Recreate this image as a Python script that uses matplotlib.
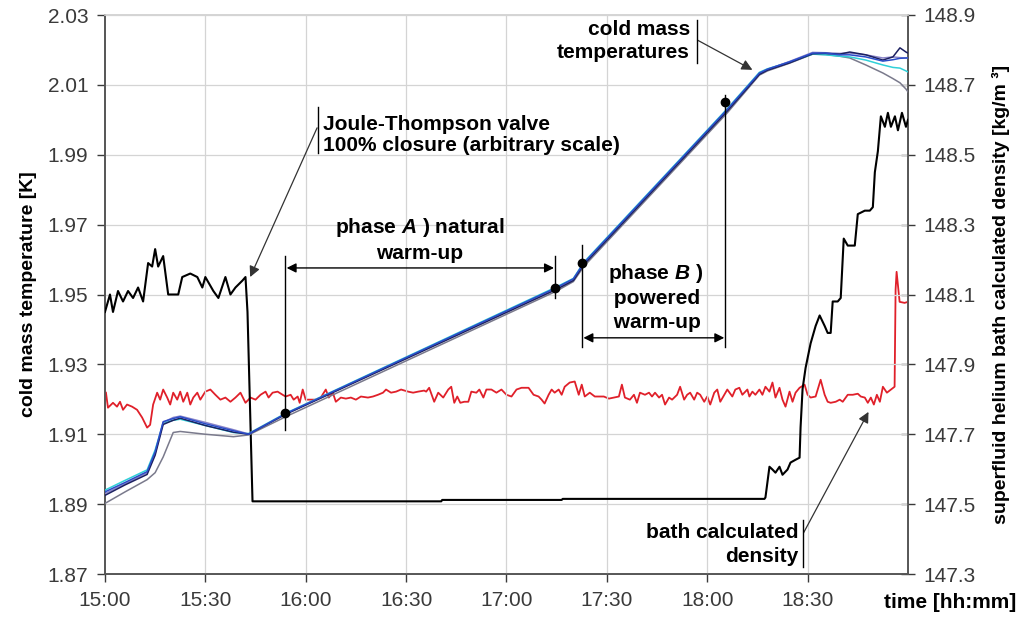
import matplotlib
matplotlib.use("Agg")
import matplotlib.pyplot as plt
import numpy as np

plt.rcParams['font.family'] = ['Liberation Sans', 'DejaVu Sans']
plt.rcParams['mathtext.fontset'] = 'custom'
plt.rcParams['mathtext.bfit'] = 'Liberation Sans:italic:bold'
plt.rcParams['mathtext.bf'] = 'Liberation Sans:bold'
plt.rcParams['mathtext.it'] = 'Liberation Sans:italic'
plt.rcParams['mathtext.rm'] = 'Liberation Sans'

# time axis: minutes after 15:00
time_ticks = [0, 30, 60, 90, 120, 150, 180, 210]
time_labels = ["15:00", "15:30", "16:00", "16:30", "17:00", "17:30", "18:00", "18:30"]
temp_ticks = [1.87, 1.89, 1.91, 1.93, 1.95, 1.97, 1.99, 2.01, 2.03]
dens_ticks = [147.3, 147.5, 147.7, 147.9, 148.1, 148.3, 148.5, 148.7, 148.9]

# cold mass temperature sensors [K]
t_cm = [0, 6, 12.6, 15, 17.4, 20.4, 22.5, 30, 38.4, 42.9, 54, 135, 140, 143.1, 186,
        195.6, 198, 204.6, 211.5, 215.4, 219.6, 222.6, 227.4, 232.5, 235.5, 237.6, 239.4, 240]
cm_blue = [1.8935, 1.8962, 1.8993, 1.9050, 1.9136, 1.9145, 1.9150, 1.9130, 1.9110, 1.9100,
           1.9159, 1.9520, 1.9545, 1.9590, 2.0030, 2.0134, 2.0145, 2.0166, 2.0191, 2.0191,
           2.0186, 2.0186, 2.0180, 2.0168, 2.0172, 2.0176, 2.0177, 2.0177]
cm_navy = [1.8925, 1.8955, 1.8985, 1.9040, 1.9128, 1.9140, 1.9146, 1.9125, 1.9106, 1.9100,
           1.9157, 1.9515, 1.9540, 1.9585, 2.0025, 2.0130, 2.0142, 2.0163, 2.0189, 2.0190,
           2.0188, 2.0194, 2.0186, 2.0171, 2.0180, 2.0206, 2.0194, 2.0191]
cm_gray = [1.8902, 1.8935, 1.8970, 1.8990, 1.9035, 1.9105, 1.9108, 1.9100, 1.9093, 1.9098,
           1.9150, 1.9510, 1.9537, 1.9580, 2.0020, 2.0128, 2.0140, 2.0162, 2.0188, 2.0187,
           2.0182, 2.0177, 2.0157, 2.0134, 2.0118, 2.0106, 2.0088, 2.0080]
cm_cyan = [1.8940, 1.8968, 1.8998, 1.9055, 1.9132, 1.9140, 1.9143, 1.9125, 1.9105, 1.9102,
           1.9160, 1.9522, 1.9546, 1.9592, 2.0032, 2.0136, 2.0146, 2.0165, 2.0188, 2.0186,
           2.0182, 2.0180, 2.0171, 2.0157, 2.0150, 2.0148, 2.0140, 2.0137]
cm_purple = [1.8930, 1.8958, 1.8990, 1.9045, 1.9134, 1.9148, 1.9152, 1.9134, 1.9113, 1.9101,
             1.9158, 1.9518, 1.9543, 1.9588, 2.0028, 2.0132, 2.0144, 2.0167, 2.0193, 2.0192,
             2.0190, 2.0191, 2.0186, 2.0177, 2.0180, 2.0178, 2.0177, 2.0177]

# Joule-Thompson valve closure (arbitrary scale, read on left axis)
t_jt = [0, 1.5, 2.4, 3.9, 5.4, 6.9, 8.4, 9.9, 11.4, 12.9, 14.1, 15.0, 15.9, 17.4, 18.9, 20.4,
        21.9, 23.1, 25.5, 27.6, 29.1, 30.0, 32.4, 33.9, 36.0, 37.5, 39.0, 41.1, 42.0, 42.6,
        44.1, 100.5, 100.8, 136.5, 136.8, 197.1, 197.4, 198.6, 199.5, 200.4, 201.6, 202.5,
        204.0, 204.9, 206.4, 207.6, 207.9, 208.5, 209.4, 210.9, 212.4, 213.6, 215.1, 216.0,
        216.9, 217.5, 219.0, 219.9, 220.8, 222.0, 224.1, 225.0, 227.1, 228.6, 229.5, 230.1,
        231.0, 231.9, 233.1, 234.0, 234.9, 236.1, 237.0, 238.2, 239.4, 240.0]
jt_valve = [1.945, 1.950, 1.945, 1.951, 1.948, 1.951, 1.949, 1.952, 1.948, 1.959, 1.958,
            1.963, 1.958, 1.961, 1.950, 1.950, 1.950, 1.955, 1.956, 1.955, 1.952, 1.955,
            1.951, 1.949, 1.955, 1.950, 1.952, 1.954, 1.955, 1.945, 1.8908, 1.8908, 1.8912,
            1.8912, 1.8915, 1.8915, 1.8919, 1.9007, 1.8999, 1.8990, 1.9007, 1.8984, 1.8999,
            1.9019, 1.9027, 1.9033, 1.912, 1.923, 1.929, 1.936, 1.941, 1.944, 1.941, 1.939,
            1.939, 1.948, 1.948, 1.949, 1.966, 1.964, 1.964, 1.973, 1.974, 1.974, 1.975,
            1.985, 1.991, 2.001, 1.998, 2.002, 1.998, 2.001, 1.997, 2.002, 1.998, 2.000]

# superfluid helium bath calculated density [kg/m3]
t_rho = [0.3, 0.9, 2.4, 3.6, 4.5, 5.4, 6.6, 8.1, 9.6, 11.1, 12.6, 13.5, 14.4, 15.6, 16.5,
         17.4, 18.6, 19.5, 20.4, 21.6, 22.5, 23.4, 24.6, 25.5, 26.4, 27.6, 28.5, 30.0, 31.5,
         33.0, 34.5, 36.0, 37.5, 39.0, 40.5, 42.0, 43.5, 45.0, 46.5, 48.0, 48.9, 50.1, 51.6,
         53.1, 54.0, 55.5, 56.4, 57.6, 58.2, 59.1, 60.0, 61.5, 63.0, 64.5, 66.0, 66.9, 68.1,
         69.0, 70.5, 72.0, 73.5, 75.0, 76.5, 78.6, 80.1, 81.6, 83.1, 84.0, 85.5, 87.0, 88.5,
         90.6, 92.1, 93.6, 95.4, 96.0, 96.9, 98.4, 99.6, 101.1, 102.6, 103.5, 104.4, 105.3,
         106.2, 107.4, 108.6, 109.5, 111.0, 111.9, 113.1, 114.0, 115.5, 117.0, 118.5, 120.0,
         121.5, 123.0, 124.5, 126.6, 128.1, 129.6, 130.5, 131.4, 132.6, 133.5, 134.4, 135.6,
         136.5, 137.4, 138.9, 140.4, 141.6, 142.5, 143.4, 144.9, 146.4, 147.9, 149.1, 150.6,
         152.1, 153.6, 154.5, 155.4, 156.9, 158.1, 159.0, 159.9, 161.4, 162.6, 163.5, 164.4,
         165.6, 166.5, 167.4, 168.6, 169.5, 171.0, 171.9, 173.1, 174.0, 174.9, 176.1, 177.0,
         177.9, 179.1, 180.0, 180.9, 182.1, 183.0, 183.9, 185.1, 186.0, 187.5, 188.4, 189.6,
         190.5, 192.0, 192.6, 193.5, 194.4, 195.6, 196.5, 197.4, 198.6, 199.5, 200.4, 201.6,
         202.5, 203.4, 204.6, 205.5, 206.4, 207.6, 209.1, 210.0, 210.9, 212.4, 213.9, 215.1,
         216.0, 216.9, 218.4, 219.6, 220.5, 222.0, 223.5, 225.0, 225.9, 227.1, 228.0, 228.9,
         229.8, 230.7, 231.6, 232.5, 233.7, 234.9, 236.0, 236.3, 236.6, 237.5, 239.0, 240.0]
rho_bath = [147.819, 147.776, 147.790, 147.779, 147.793, 147.770, 147.785, 147.779, 147.770,
            147.748, 147.719, 147.727, 147.785, 147.819, 147.799, 147.828, 147.805, 147.785,
            147.819, 147.799, 147.822, 147.793, 147.819, 147.785, 147.805, 147.819, 147.799,
            147.822, 147.828, 147.813, 147.799, 147.805, 147.793, 147.805, 147.819, 147.790,
            147.805, 147.799, 147.813, 147.822, 147.805, 147.819, 147.822, 147.813, 147.808,
            147.813, 147.799, 147.808, 147.790, 147.828, 147.799, 147.799, 147.799, 147.805,
            147.828, 147.805, 147.819, 147.793, 147.805, 147.802, 147.805, 147.799, 147.808,
            147.805, 147.808, 147.813, 147.819, 147.828, 147.819, 147.822, 147.828, 147.822,
            147.819, 147.822, 147.825, 147.822, 147.833, 147.793, 147.819, 147.805, 147.828,
            147.836, 147.790, 147.808, 147.790, 147.793, 147.793, 147.822, 147.819, 147.828,
            147.805, 147.828, 147.828, 147.819, 147.828, 147.813, 147.808, 147.828, 147.833,
            147.833, 147.813, 147.808, 147.799, 147.788, 147.813, 147.828, 147.819, 147.828,
            147.813, 147.836, 147.848, 147.851, 147.813, 147.842, 147.808, 147.819, 147.808,
            147.808, 147.808, 147.802, 147.805, 147.808, 147.842, 147.805, 147.799, 147.813,
            147.790, 147.819, 147.813, 147.819, 147.808, 147.819, 147.805, 147.813, 147.785,
            147.805, 147.799, 147.813, 147.836, 147.799, 147.813, 147.819, 147.799, 147.819,
            147.813, 147.793, 147.808, 147.785, 147.819, 147.828, 147.793, 147.813, 147.828,
            147.808, 147.828, 147.833, 147.813, 147.828, 147.808, 147.822, 147.813, 147.828,
            147.813, 147.836, 147.822, 147.848, 147.805, 147.833, 147.799, 147.779, 147.822,
            147.793, 147.819, 147.833, 147.842, 147.813, 147.805, 147.808, 147.856, 147.813,
            147.793, 147.790, 147.793, 147.799, 147.793, 147.813, 147.813, 147.816, 147.808,
            147.805, 147.790, 147.805, 147.785, 147.813, 147.793, 147.836, 147.819, 147.828,
            147.836, 148.114, 148.165, 148.079, 148.076, 148.079]

# phase markers (time, temperature)
dot_t = [53.8, 134.6, 142.7, 185.4]
dot_T = [1.916, 1.952, 1.959, 2.005]

fig = plt.figure(figsize=(10.21, 6.25), dpi=100)
ax = fig.add_axes([0.1028, 0.0816, 0.7865, 0.8944])
ax2 = ax.twinx()

grid_c = '#d4d4d4'
for v in temp_ticks:
    ax.axhline(v, color=grid_c, lw=0.9, zorder=0)
for v in time_ticks[1:] + [240]:
    ax.axvline(v, color=grid_c, lw=0.9, zorder=0)

ax.plot(t_jt, jt_valve, color='black', lw=1.5, zorder=3)
ax2.plot(t_rho, rho_bath, color='#e0202a', lw=1.3, zorder=3)

ax.plot(t_cm, cm_gray, color='#7a7a8c', lw=1.1, zorder=4)
ax.plot(t_cm, cm_cyan, color='#30d0d8', lw=1.1, zorder=4)
ax.plot(t_cm, cm_purple, color='#8a84c8', lw=1.1, zorder=4)
ax.plot(t_cm, cm_navy, color='#1c2060', lw=1.1, zorder=4)
ax.plot(t_cm, cm_blue, color='#2a4cc8', lw=1.1, zorder=4)
ax.plot(dot_t, dot_T, 'o', color='black', ms=6, zorder=6)

ax.set_xlim(0, 240)
ax.set_ylim(1.87, 2.03)
ax2.set_ylim(147.3, 148.9)
ax.set_xticks(time_ticks)
ax.set_xticklabels(time_labels)
ax.set_yticks(temp_ticks)
ax.set_yticklabels([f"{v:.2f}" for v in temp_ticks])
ax2.set_yticks(dens_ticks)
ax2.set_yticklabels([f"{v:.1f}" for v in dens_ticks])

tick_c = '#3a3a3a'
ax.tick_params(axis='both', labelsize=15, colors=tick_c, length=6, width=1, pad=6)
ax2.tick_params(axis='y', labelsize=15, colors=tick_c, direction='inout', length=10, width=1, pad=6)
for a in (ax, ax2):
    a.spines['top'].set_color(grid_c)
    a.spines['left'].set_color('#555555')
    a.spines['bottom'].set_color('#555555')
    a.spines['right'].set_color('#555555')
    for s in a.spines.values():
        s.set_linewidth(1.2)

ax.set_ylabel("cold mass temperature [K]", fontsize=14, fontweight='bold', labelpad=8)
ax2.set_ylabel("superfluid helium bath calculated density [kg/m ³]", fontsize=14,
               fontweight='bold', labelpad=12)
fig.text(0.995, 0.036, "time [hh:mm]", ha='right', va='center', fontsize=15, fontweight='bold')

arr = dict(arrowstyle='-|>', color='#333333', lw=0.9, mutation_scale=16, shrinkA=0, shrinkB=0)
dbl = dict(arrowstyle='<|-|>', color='black', lw=1.0, mutation_scale=14, shrinkA=0, shrinkB=0)
bar = dict(color='black', lw=1.0, zorder=5)
txt = dict(fontsize=15, fontweight='bold', color='black')

# Joule-Thompson valve
ax.plot([63.7, 63.7], [1.9905, 2.0037], **bar)
ax.annotate("", xy=(43.4, 1.955), xytext=(63.4, 1.9977), arrowprops=arr)
ax.text(65.2, 1.9957, "Joule-Thompson valve\n100% closure (arbitrary scale)", ha='left',
        va='center', linespacing=1.15, **txt)

# phase A
ax.plot([53.8, 53.8], [1.9113, 1.961], **bar)
ax.plot([134.6, 134.6], [1.949, 1.961], **bar)
ax.annotate("", xy=(54.3, 1.9576), xytext=(134.2, 1.9576), arrowprops=dbl)
ax.text(94, 1.9657, "phase $\\mathbfit{A}$ ) natural\nwarm-up", ha='center', va='center',
        linespacing=1.3, **txt)

# phase B
ax.plot([142.7, 142.7], [1.935, 1.9642], **bar)
ax.plot([185.4, 185.4], [1.935, 2.0071], **bar)
ax.annotate("", xy=(143.0, 1.9376), xytext=(185.1, 1.9376), arrowprops=dbl)
ax.text(150.2, 1.9493, "phase $\\mathbfit{B}$ )\n powered\n warm-up", ha='left', va='center',
        linespacing=1.3, **txt)

# cold mass temperatures
ax.plot([176.8, 176.8], [2.0163, 2.0286], **bar)
ax.annotate("", xy=(193.5, 2.0143), xytext=(177.1, 2.0228), arrowprops=arr)
ax.text(174.8, 2.0226, "cold mass\ntemperatures", ha='right', va='center', linespacing=1.3,
        **txt)

# bath calculated density
ax.plot([208.5, 208.5], [1.872, 1.8855], **bar)
ax.annotate("", xy=(228.2, 1.9164), xytext=(208.8, 1.8818), arrowprops=arr)
ax.text(207.2, 1.8785, "bath calculated\ndensity", ha='right', va='center', linespacing=1.3,
        multialignment='right', **txt)

ax.set_zorder(ax2.get_zorder() + 1)
ax.patch.set_visible(False)

fig.savefig("out.png", dpi=100)
